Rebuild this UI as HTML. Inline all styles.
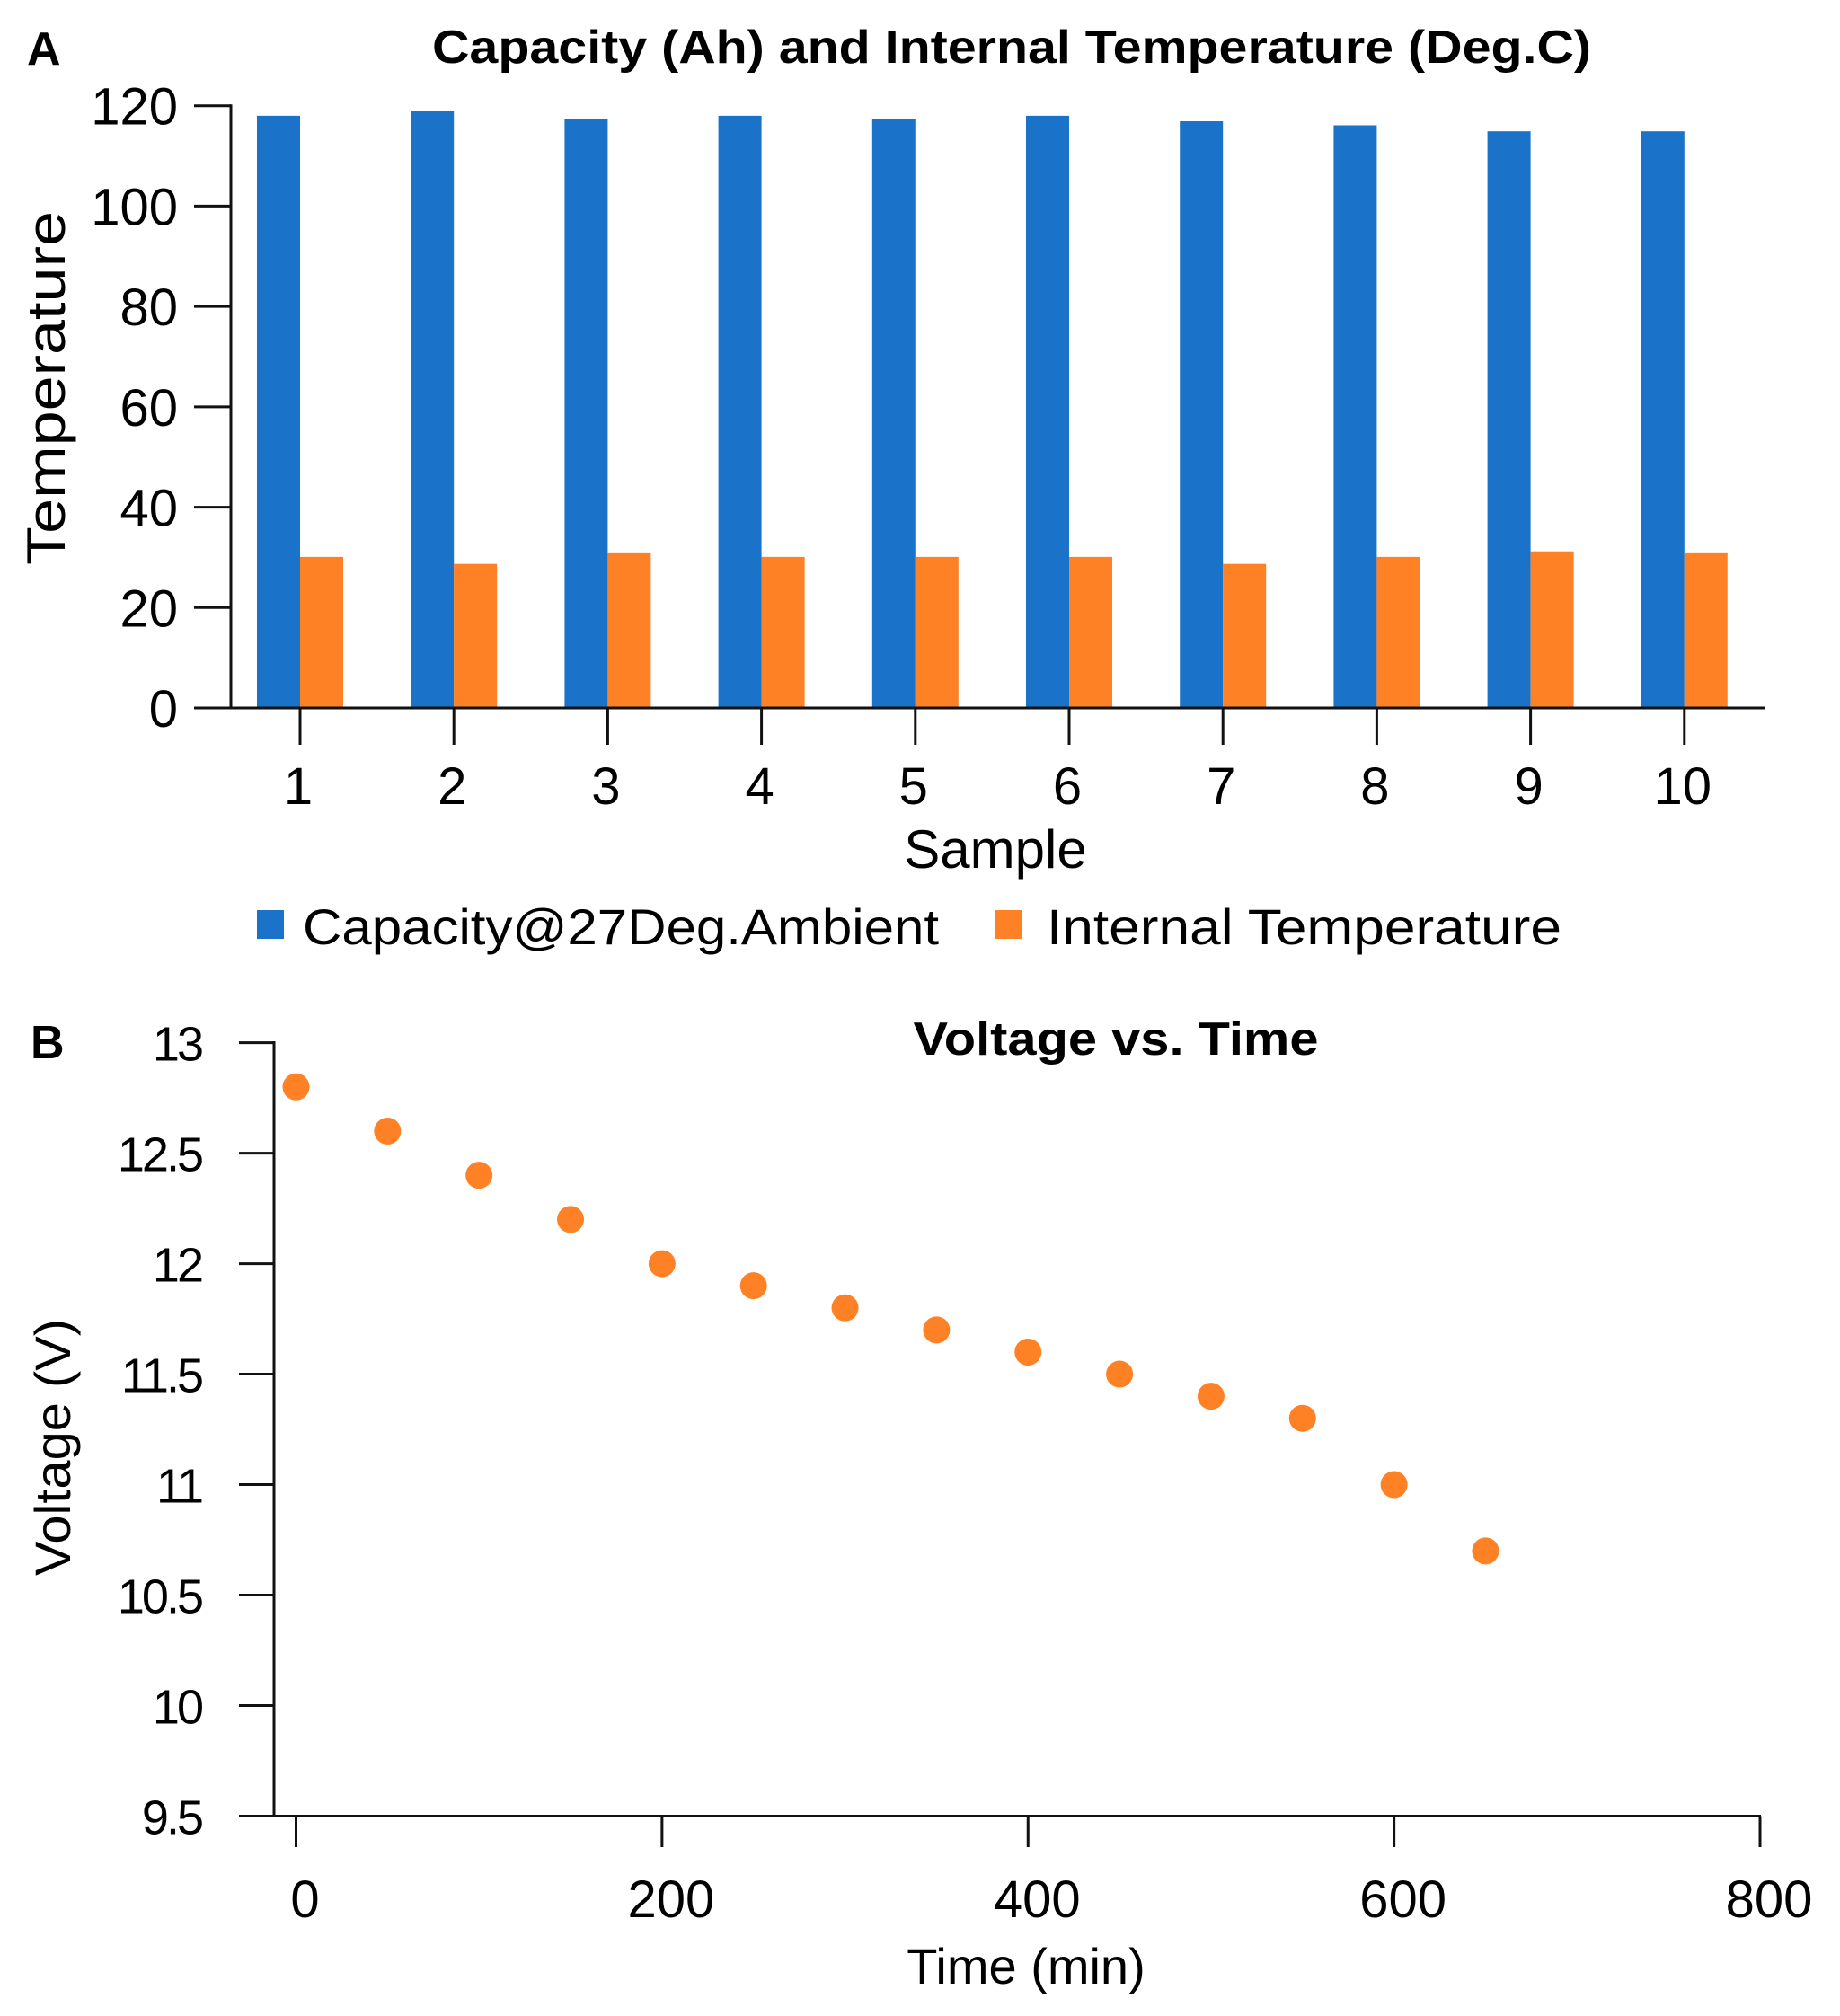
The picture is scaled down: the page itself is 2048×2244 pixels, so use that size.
<!DOCTYPE html>
<html><head><meta charset="utf-8"><style>
html,body{margin:0;padding:0;background:#fff}
svg{display:block;font-family:"Liberation Sans",Arial,sans-serif}
</style></head><body>
<svg id="fig" width="2048" height="2244" viewBox="0 0 2048 2244" xmlns="http://www.w3.org/2000/svg">
<rect width="2048" height="2244" fill="#fff"/>
<text x="30" y="72" font-size="52" font-weight="bold">A</text>
<text x="1126" y="70" font-size="52" font-weight="bold" text-anchor="middle" textLength="1290" lengthAdjust="spacingAndGlyphs">Capacity (Ah) and Internal Temperature (Deg.C)</text>
<g id="chartA"></g>
<text transform="translate(72,432) rotate(-90)" font-size="60" text-anchor="middle" textLength="394" lengthAdjust="spacingAndGlyphs">Temperature</text>
<text x="1108" y="966" font-size="60" text-anchor="middle">Sample</text>
<g>
<rect x="286" y="1013" width="30" height="32" fill="#1a73c8"/>
<text x="337" y="1051" font-size="56" textLength="708" lengthAdjust="spacingAndGlyphs">Capacity@27Deg.Ambient</text>
<rect x="1108" y="1013" width="30" height="32" fill="#ff8126"/>
<text x="1165" y="1051" font-size="56" textLength="573" lengthAdjust="spacingAndGlyphs">Internal Temperature</text>
</g>
<text x="34" y="1178" font-size="52" font-weight="bold">B</text>
<text x="1242" y="1174" font-size="52" font-weight="bold" text-anchor="middle" textLength="451" lengthAdjust="spacingAndGlyphs">Voltage vs. Time</text>
<g id="chartB"></g>
<text transform="translate(78,1611) rotate(-90)" font-size="56" text-anchor="middle" textLength="286" lengthAdjust="spacingAndGlyphs">Voltage (V)</text>
<text x="1142" y="2208" font-size="56" text-anchor="middle">Time (min)</text>
</svg>
<script>
const samples = ["1","2","3","4","5","6","7","8","9","10"];
const capacity = [118.0,119.0,117.4,118.0,117.3,118.0,116.9,116.1,114.9,114.9];
const internalTemp = [30.1,28.7,31.0,30.1,30.1,30.1,28.7,30.1,31.2,31.0];
const yTicksA = [0,20,40,60,80,100,120];

const times = [0,50,100,150,200,250,300,350,400,450,500,550,600,650];
const voltages = [12.8,12.6,12.4,12.2,12.0,11.9,11.8,11.7,11.6,11.5,11.4,11.3,11.0,10.7];
const yTicksB = [9.5,10,10.5,11,11.5,12,12.5,13];
const yTickLabelsB = ["9.5","10","10.5","11","11.5","12","12.5","13"];
const xTicksB = [0,200,400,600,800];

const NS = "http://www.w3.org/2000/svg";
function mk(parent, tag, attrs, text){
  const e = document.createElementNS(NS, tag);
  for (const k in attrs) e.setAttribute(k, attrs[k]);
  if (text !== undefined) e.textContent = text;
  parent.appendChild(e);
  return e;
}
// Chart A
const gA = document.getElementById('chartA');
const yA = v => 788 - v * (788 - 117.7) / 120;
const xA = i => 334 + i * 171.2;
const bw = 48;
let e;
for (let i = 0; i < samples.length; i++) {
  e = mk(gA, 'rect', {x: xA(i) - bw, y: yA(capacity[i]), width: bw, height: yA(0) - yA(capacity[i]), fill: '#1a73c8'});
  
  
  e = mk(gA, 'rect', {x: xA(i), y: yA(internalTemp[i]), width: bw, height: yA(0) - yA(internalTemp[i]), fill: '#ff8126'});
  
  
  e = mk(gA, 'line', {x1: xA(i), x2: xA(i), y1: 788, y2: 829, stroke: '#111', 'stroke-width': 3});
  
  
  e = mk(gA, 'text', {x: xA(i) - 2, y: 895, 'font-size': 58, 'text-anchor': 'middle'}, samples[i]);
  
  
}
e = mk(gA, 'line', {x1: 257, x2: 257, y1: yA(120) - 1.5, y2: 789.5, stroke: '#111', 'stroke-width': 3});


e = mk(gA, 'line', {x1: 216, x2: 1965, y1: 788, y2: 788, stroke: '#111', 'stroke-width': 3});


for (const t of yTicksA) {
  e = mk(gA, 'line', {x1: 216, x2: 257, y1: yA(t), y2: yA(t), stroke: '#111', 'stroke-width': 3});
  
  
  e = mk(gA, 'text', {x: 198, y: yA(t) + 21, 'font-size': 58, 'text-anchor': 'end'}, String(t));
  
  
}
// Chart B
const gB = document.getElementById('chartB');
const yB = v => 2021.5 - (v - 9.5) * (2021.5 - 1160.6) / 3.5;
const xB = t => 329.5 + t * (1959 - 329.5) / 800;
e = mk(gB, 'line', {x1: 305, x2: 305, y1: 1159, y2: 2023, stroke: '#111', 'stroke-width': 3});


e = mk(gB, 'line', {x1: 266, x2: 1960, y1: 2021.5, y2: 2021.5, stroke: '#111', 'stroke-width': 3});


for (let i = 0; i < yTicksB.length; i++) {
  e = mk(gB, 'line', {x1: 266, x2: 305, y1: yB(yTicksB[i]), y2: yB(yTicksB[i]), stroke: '#111', 'stroke-width': 3});
  
  
  e = mk(gB, 'text', {x: 224, y: yB(yTicksB[i]) + 20, 'font-size': 54, 'text-anchor': 'end', 'letter-spacing': -3}, yTickLabelsB[i]);
  
  
}
for (const t of xTicksB) {
  e = mk(gB, 'line', {x1: xB(t), x2: xB(t), y1: 2021.5, y2: 2056, stroke: '#111', 'stroke-width': 3});
  
  
  e = mk(gB, 'text', {x: xB(t) + 10, y: 2134, 'font-size': 58, 'text-anchor': 'middle'}, String(t));
  
  
}
for (let i = 0; i < times.length; i++) {
  e = mk(gB, 'circle', {cx: xB(times[i]), cy: yB(voltages[i]), r: 15, fill: '#ff8126'});
  
  
}
</script>
</body></html>
